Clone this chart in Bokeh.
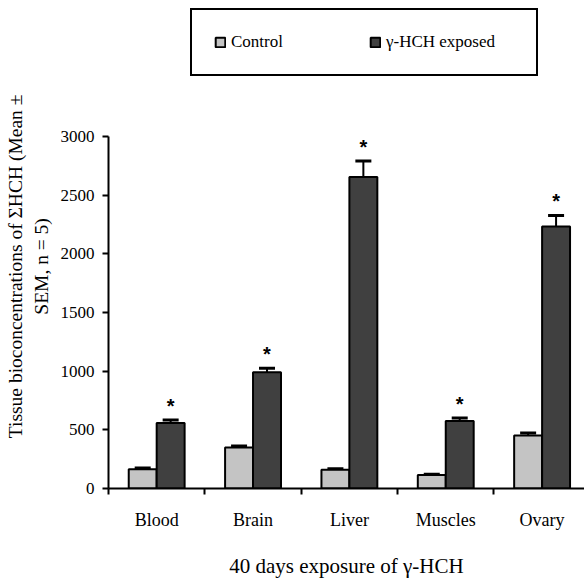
from bokeh.plotting import figure
from bokeh.models import (ColumnDataSource, FixedTicker, Range1d, Whisker, TeeHead,
                          Legend, LegendItem)
from bokeh.transform import dodge
from bokeh.core.properties import value
from bokeh.embed import file_html
from bokeh.resources import INLINE

categories = ["Blood", "Brain", "Liver", "Muscles", "Ovary"]
control = [165, 350, 160, 115, 452]
control_sem = [10, 12, 8, 6, 20]
exposed = [558, 990, 2655, 575, 2232]
exposed_sem = [25, 35, 135, 25, 95]
significant = ["*", "*", "*", "*", "*"]
y_ticks = [0, 500, 1000, 1500, 2000, 2500, 3000]
y_top = 3000

pos = [i + 0.5 for i in range(len(categories))]
src = ColumnDataSource(dict(
    x=pos, cat=categories,
    c=control, c_lo=[v - s for v, s in zip(control, control_sem)],
    c_hi=[v + s for v, s in zip(control, control_sem)],
    e=exposed, e_lo=[v - s for v, s in zip(exposed, exposed_sem)],
    e_hi=[v + s for v, s in zip(exposed, exposed_sem)],
    star=significant,
))

FONT = "Liberation Serif"
W = 0.29
OFF = 0.145

# layout (pixels): frame spans the full height above the x axis; the axis
# itself is bounded to 0..3000, leaving room above for the legend
H, BOTTOM, AXIS_TOP = 580, 88, 137
frame_h = H - BOTTOM
y_max = y_top * frame_h / (frame_h - AXIS_TOP)

p = figure(width=584, height=H, output_backend="svg", toolbar_location=None,
           x_range=Range1d(0, 4.94), y_range=Range1d(0, y_max),
           min_border_left=108, min_border_right=0, min_border_top=0,
           min_border_bottom=BOTTOM)
p.outline_line_color = None
p.grid.grid_line_color = None
p.background_fill_color = "white"

r1 = p.vbar(x=dodge("x", -OFF), top="c", width=W, source=src,
            fill_color="#c4c4c4", line_color="black", line_width=2)
r2 = p.vbar(x=dodge("x", OFF), top="e", width=W, source=src,
            fill_color="#404040", line_color="black", line_width=2)

for lo, hi, off in (("c_lo", "c_hi", -OFF), ("e_lo", "e_hi", OFF)):
    wk = Whisker(base=dodge("x", off), lower=lo, upper=hi, source=src,
                 line_color="black", line_width=2,
                 upper_head=TeeHead(size=16, line_width=3, line_color="black"),
                 lower_head=TeeHead(size=16, line_width=3, line_color="black"))
    p.add_layout(wk)

p.text(x=dodge("x", OFF), y="e_hi", text="star", source=src,
       text_font=value("Liberation Sans"), text_font_style="bold",
       text_font_size="20px", text_align="center", text_baseline="alphabetic",
       y_offset=-14, text_color="black")

# x axis
xa = p.xaxis[0]
xa.ticker = FixedTicker(ticks=pos, minor_ticks=list(range(len(categories) + 1)))
xa.major_label_overrides = {v: c for v, c in zip(pos, categories)}
xa.major_tick_line_color = None
xa.minor_tick_line_color = "black"
xa.minor_tick_line_width = 2
xa.minor_tick_out = 6
xa.minor_tick_in = 0
xa.axis_line_width = 2
xa.axis_line_color = "black"
xa.major_label_text_font = FONT
xa.major_label_text_font_size = "18px"
xa.major_label_text_color = "black"
xa.major_label_standoff = 15
xa.axis_label = "40 days exposure of \u03b3-HCH"
xa.axis_label_text_font = FONT
xa.axis_label_text_font_size = "21px"
xa.axis_label_text_font_style = "normal"
xa.axis_label_text_color = "black"
xa.axis_label_standoff = 21

ya = p.yaxis[0]
ya.bounds = (0, y_top)
ya.ticker = FixedTicker(ticks=y_ticks)
ya.minor_tick_line_color = None
ya.major_tick_out = 6
ya.major_tick_in = 0
ya.major_tick_line_width = 2
ya.axis_line_width = 2
ya.axis_line_color = "black"
ya.major_label_text_font = FONT
ya.major_label_text_font_size = "17px"
ya.major_label_text_color = "black"
ya.major_label_standoff = 8
pad = "\u00a0" * 9
ya.axis_label = ("Tissue bioconcentrations of \u03a3HCH (Mean \u00b1" + pad +
                 "\nSEM, n = 5)" + pad)
ya.axis_label_text_font = FONT
ya.axis_label_text_font_size = "19.5px"
ya.axis_label_text_font_style = "normal"
ya.axis_label_text_color = "black"
ya.axis_label_standoff = 6

legend = Legend(items=[LegendItem(label="Control", renderers=[r1]),
                       LegendItem(label="\u03b3-HCH exposed", renderers=[r2])],
                orientation="horizontal", location=(82, frame_h - 80), margin=0,
                padding=22, spacing=10, glyph_width=12, glyph_height=12,
                label_width=128, label_height=18, label_standoff=5,
                label_text_font=FONT,
                label_text_font_size="17px", label_text_color="black",
                border_line_color="black", border_line_width=2,
                border_line_alpha=1, background_fill_alpha=1)
p.add_layout(legend, "center")

open("out.html", "w").write(file_html(p, INLINE))
